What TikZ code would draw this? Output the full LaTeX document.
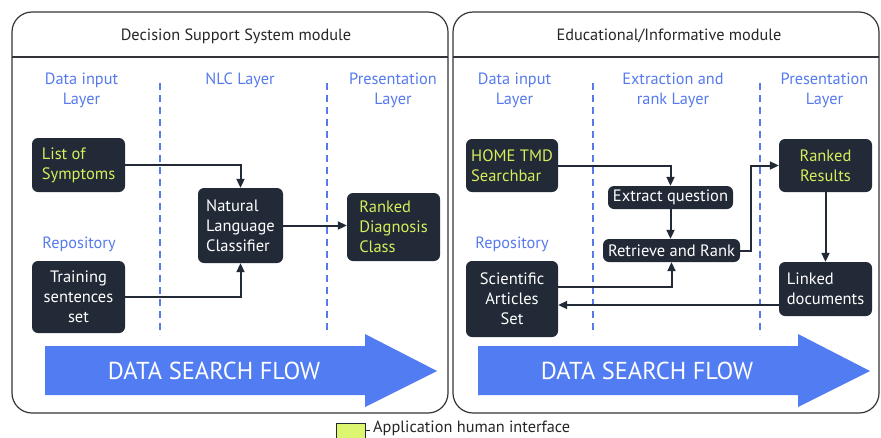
\documentclass[tikz,border=0pt]{standalone}
\usepackage{fontspec}
\setmainfont{PT Sans}
\usetikzlibrary{arrows.meta}
\definecolor{boxdark}{RGB}{33,42,54}
\definecolor{hmi}{RGB}{214,238,92}
\definecolor{layerblue}{RGB}{86,122,236}
\definecolor{flowblue}{RGB}{82,124,242}
\definecolor{frame}{RGB}{50,52,58}
\definecolor{legendfill}{RGB}{220,246,112}
\tikzset{
  panel/.style={draw=frame, line width=1.2pt, rounded corners=20pt},
  sep/.style={draw=layerblue, line width=2pt, dash pattern=on 7pt off 5pt},
  layer/.style={text=layerblue, align=center, font=\fontsize{16.3}{20}\selectfont},
  title/.style={text=black!85, font=\fontsize{16.3}{20}\selectfont},
  block/.style={fill=boxdark, rounded corners=6pt, inner sep=2pt,
    font=\fontsize{16.5}{20}\selectfont, text=white},
  ui/.style={block, text=hmi},
  conn/.style={draw=boxdark, line width=2pt,
    -{Triangle[length=9pt,width=8pt]}},
  flow/.style={fill=flowblue},
  flowtext/.style={text=white, font=\fontsize{24.5}{28}\selectfont}
}
\begin{document}
\begin{tikzpicture}[x=1pt,y=-1pt]
\useasboundingbox (0,0) rectangle (881,437);

% module frames with their title bars
\draw[panel] (12,12) rectangle (448,413);
\draw[frame, line width=1.2pt] (12,57) -- (448,57);
\draw[panel] (453,12) rectangle (879,413);
\draw[frame, line width=1.2pt] (453,57) -- (879,57);
\node[title] (t1) at (236,36) {Decision Support System module};
\node[title] (t2) at (669,36) {Educational/Informative module};

% layer separators
\draw[sep] (160,83) -- (160,335);
\draw[sep] (327,83) -- (327,335);
\draw[sep] (593,83) -- (593,335);
\draw[sep] (760,83) -- (760,335);

% layer headings
\node[layer] (l1) at (81.5,90) {Data input\\Layer};
\node[layer] (l2) at (240,80) {NLC Layer};
\node[layer] (l3) at (393,90) {Presentation\\Layer};
\node[layer] (r1) at (514.5,90) {Data input\\Layer};
\node[layer] (r2) at (673,90) {Extraction and\\rank Layer};
\node[layer] (r3) at (824.5,90) {Presentation\\Layer};
\node[layer] (rep1) at (79,244) {Repository};
\node[layer] (rep2) at (512,244) {Repository};

% big flow arrows
\fill[flow] (45,346) -- (365,346) -- (365,334) -- (437,371) -- (365,407)
  -- (365,395) -- (45,395) -- cycle;
\node[flowtext] (f1) at (214,371) {DATA SEARCH FLOW};
\fill[flow] (478,346) -- (798,346) -- (798,334) -- (870,371) -- (798,407)
  -- (798,395) -- (478,395) -- cycle;
\node[flowtext] (f2) at (647,371) {DATA SEARCH FLOW};

% decision support blocks
\node[ui, minimum width=93pt, minimum height=54pt, align=left] (lst)
  at (78.5,165) {List of\\Symptoms};
\node[block, minimum width=85pt, minimum height=75pt, align=left] (nlc)
  at (240.5,225.5) {Natural\\Language\\Classifier};
\node[ui, minimum width=93pt, minimum height=68pt, align=left] (rdc)
  at (393.5,227) {Ranked\\Diagnosis\\Class};
\node[block, minimum width=93pt, minimum height=72pt, align=center] (trn)
  at (78.5,297) {Training\\sentences\\set};

% educational blocks
\node[ui, minimum width=92pt, minimum height=53pt, align=left] (home)
  at (512,165.5) {HOME TMD\\Searchbar};
\node[block, minimum width=125pt, minimum height=23pt] (exq)
  at (670.5,197.5) {Extract question};
\node[block, minimum width=137pt, minimum height=23pt] (rar)
  at (671.5,250.5) {Retrieve and Rank};
\node[block, minimum width=92pt, minimum height=76pt, align=center] (sci)
  at (512,299) {Scientific\\Articles\\Set};
\node[ui, minimum width=93pt, minimum height=53pt, align=center] (rres)
  at (825.5,165.5) {Ranked\\Results};
\node[block, minimum width=93pt, minimum height=54pt, align=left] (lnk)
  at (825.5,289) {Linked\\documents};

% connectors
\draw[conn] (lst.east) -| (nlc.north);
\draw[conn] (trn.east) -| (nlc.south);
\draw[conn] (nlc.east) -- (nlc.east -| rdc.west);
\draw[conn] (home.east) -| (exq.north);
\draw[conn] (exq.south) -- (exq.south |- rar.north);
\draw[conn] (rar.east) -- ++(11,0) |- (rres.west);
\draw[conn] ([yshift=12pt]sci.east) -| (rar.south);
\draw[conn] (rres.south) -- (lnk.north);
\draw[conn] ([yshift=-16pt]lnk.west) coordinate (lw) -- (lw -| sci.east);

% legend
\node[draw=boxdark, line width=1pt, fill=legendfill, minimum width=29pt,
  minimum height=20pt, inner sep=0pt] (key) at (350.5,433) {};
\coordinate (keytick) at (370,430);
\draw[boxdark, line width=1pt] (key.east |- keytick) -- (keytick);
\node[title, anchor=base west, inner sep=0pt] (keytext) at (373,432.5)
  {Application human interface};
\end{tikzpicture}
\end{document}
